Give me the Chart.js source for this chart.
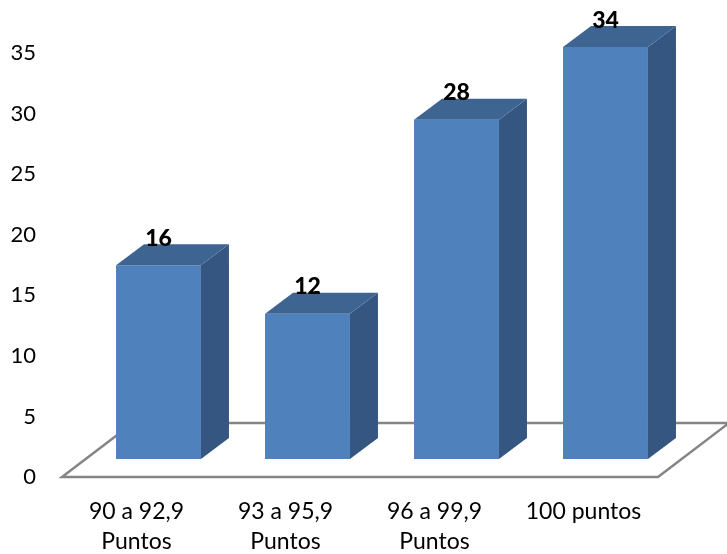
<!DOCTYPE html>
<html>
<head>
<meta charset="utf-8">
<title>Puntos</title>
<script src="https://cdn.jsdelivr.net/npm/chart.js@4.4.1/dist/chart.umd.min.js"></script>
<style>
  html, body { margin: 0; padding: 0; background: #ffffff; }
  #wrap { width: 727px; height: 554px; }
</style>
</head>
<body>
<div id="wrap"><canvas id="chart" width="727" height="554"></canvas></div>
<script>
// Score ranges and how many results fell in each
const categories = [['90 a 92,9', 'Puntos'], ['93 a 95,9', 'Puntos'], ['96 a 99,9', 'Puntos'], '100 puntos'];
const values = [16, 12, 28, 34];

// Value axis
const yMin = 0;
const yMax = 35;
const yStep = 5;

// Colours of the three visible faces of each box
const FRONT = '#4f81bd';
const SIDE = '#345680';
const TOP = '#3e6492';
const FLOOR_LINE = '#858585';

// Perspective offsets (px): bars stand a little behind the front edge of the floor
const SHIFT = { dx: 22, dy: -18 };
const BAR_DEPTH = { dx: 28, dy: -21 };
const FLOOR_DEPTH = { dx: 71, dy: -54 };

const FONT = 'Lato, "Open Sans", sans-serif';

const box3d = {
  id: 'box3d',
  beforeDatasetsDraw(chart) {
    const { ctx } = chart;
    const xs = chart.scales.x;
    const ys = chart.scales.y;
    const x0 = xs.left, x1 = xs.right, y0 = ys.getPixelForValue(0);

    // floor outline
    ctx.save();
    ctx.strokeStyle = FLOOR_LINE;
    ctx.lineWidth = 2.5;
    ctx.lineJoin = 'miter';
    ctx.beginPath();
    ctx.moveTo(x0 + FLOOR_DEPTH.dx, y0 + FLOOR_DEPTH.dy);
    ctx.lineTo(x0, y0);
    ctx.lineTo(x1, y0);
    ctx.lineTo(x1 + FLOOR_DEPTH.dx, y0 + FLOOR_DEPTH.dy);
    ctx.lineTo(x0 + FLOOR_DEPTH.dx, y0 + FLOOR_DEPTH.dy);
    ctx.stroke();
    ctx.restore();

    // move the bars back onto the floor
    ctx.save();
    ctx.translate(SHIFT.dx, SHIFT.dy);
  },
  afterDatasetsDraw(chart) {
    const { ctx } = chart;
    const meta = chart.getDatasetMeta(0);
    meta.data.forEach((bar) => {
      const p = bar.getProps(['x', 'y', 'base', 'width'], true);
      const l = p.x - p.width / 2, r = p.x + p.width / 2;
      const t = Math.min(p.y, p.base), b = Math.max(p.y, p.base);
      const dx = BAR_DEPTH.dx, dy = BAR_DEPTH.dy;

      // right side face
      ctx.fillStyle = SIDE;
      ctx.beginPath();
      ctx.moveTo(r, t);
      ctx.lineTo(r + dx, t + dy);
      ctx.lineTo(r + dx, b + dy);
      ctx.lineTo(r, b);
      ctx.closePath();
      ctx.fill();

      // top face
      ctx.fillStyle = TOP;
      ctx.beginPath();
      ctx.moveTo(l, t);
      ctx.lineTo(l + dx, t + dy);
      ctx.lineTo(r + dx, t + dy);
      ctx.lineTo(r, t);
      ctx.closePath();
      ctx.fill();
    });

    // value labels above each box
    ctx.fillStyle = '#000000';
    ctx.font = '900 23px ' + FONT;
    ctx.textAlign = 'center';
    ctx.textBaseline = 'middle';
    meta.data.forEach((bar, i) => {
      const p = bar.getProps(['x', 'y'], true);
      ctx.fillText(String(values[i]), p.x, p.y - 27);
    });
    ctx.restore();
  }
};

new Chart(document.getElementById('chart'), {
  type: 'bar',
  data: {
    labels: categories,
    datasets: [{
      data: values,
      backgroundColor: FRONT,
      borderWidth: 0,
      barPercentage: 0.57,
      categoryPercentage: 1,
      clip: false
    }]
  },
  options: {
    responsive: false,
    animation: false,
    events: [],
    layout: { padding: { left: 0, right: 69, top: 53, bottom: 0 } },
    plugins: { legend: { display: false }, tooltip: { enabled: false } },
    scales: {
      x: {
        grid: { display: false, drawTicks: false },
        border: { display: false },
        ticks: {
          color: '#000000',
          font: { family: FONT, size: 23, lineHeight: 1.3 },
          padding: 20,
          maxRotation: 0,
          autoSkip: false
        },
        afterFit(scale) { scale.height = 77; }
      },
      y: {
        min: yMin,
        max: yMax,
        grid: { display: false, drawTicks: false },
        border: { display: false },
        ticks: {
          stepSize: yStep,
          color: '#000000',
          font: { family: FONT, size: 22 },
          padding: 26
        },
        afterFit(scale) { scale.width = 62; }
      }
    }
  },
  plugins: [box3d]
});
</script>
</body>
</html>
